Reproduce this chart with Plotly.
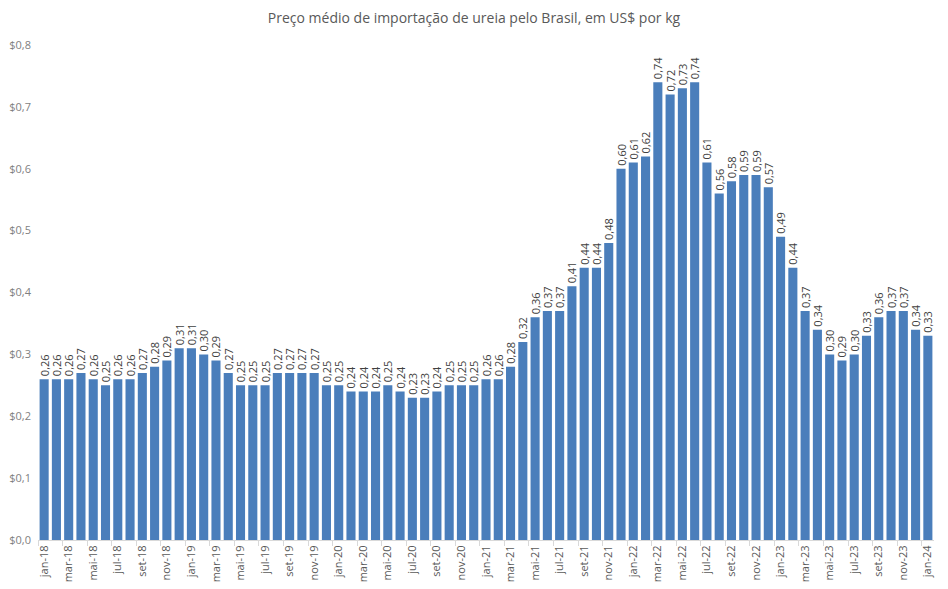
import plotly.graph_objects as go

months = ["jan", "fev", "mar", "abr", "mai", "jun", "jul", "ago", "set", "out", "nov", "dez"]
categories = [f"{m}-{y}" for y in range(18, 24) for m in months] + ["jan-24"]

prices = [
    0.26, 0.26, 0.26, 0.27, 0.26, 0.25, 0.26, 0.26, 0.27, 0.28, 0.29, 0.31,
    0.31, 0.30, 0.29, 0.27, 0.25, 0.25, 0.25, 0.27, 0.27, 0.27, 0.27, 0.25,
    0.25, 0.24, 0.24, 0.24, 0.25, 0.24, 0.23, 0.23, 0.24, 0.25, 0.25, 0.25,
    0.26, 0.26, 0.28, 0.32, 0.36, 0.37, 0.37, 0.41, 0.44, 0.44, 0.48, 0.60,
    0.61, 0.62, 0.74, 0.72, 0.73, 0.74, 0.61, 0.56, 0.58, 0.59, 0.59, 0.57,
    0.49, 0.44, 0.37, 0.34, 0.30, 0.29, 0.30, 0.33, 0.36, 0.37, 0.37, 0.34,
    0.33,
]

title = "Preço médio de importação de ureia pelo Brasil, em US$ por kg"
y_ticks = [0, 0.1, 0.2, 0.3, 0.4, 0.5, 0.6, 0.7, 0.8]
y_tick_labels = ["$0,0", "$0,1", "$0,2", "$0,3", "$0,4", "$0,5", "$0,6", "$0,7", "$0,8"]

xs = list(range(len(categories)))
tick_idx = xs[::2]
tick_labels = [categories[i] for i in tick_idx]
boundaries = [i - 0.5 for i in range(0, len(categories) + 1, 2)]

FONT = "Open Sans"
fig = go.Figure(
    go.Bar(
        x=xs,
        y=prices,
        marker=dict(color="#4A7EBB", line=dict(width=0)),
        texttemplate="%{y:.2f}",
        textposition="outside",
        textangle=-90,
        textfont=dict(family=FONT, size=11, color="#404040"),
        cliponaxis=False,
        constraintext="none",
        hoverinfo="skip",
    )
)

fig.update_layout(
    width=948,
    height=589,
    margin=dict(l=38, r=14, t=45, b=49),
    paper_bgcolor="white",
    plot_bgcolor="white",
    separators=",.",
    bargap=0.26,
    showlegend=False,
    title=dict(
        text=title,
        x=0.5,
        xanchor="center",
        y=1 - 18 / 589,
        yanchor="middle",
        font=dict(family=FONT, size=14, color="#595959"),
    ),
    xaxis=dict(
        range=[-0.5, len(categories) - 0.5],
        tickmode="array",
        tickvals=tick_idx,
        ticktext=tick_labels,
        tickangle=-90,
        ticks="",
        showline=True,
        linecolor="#D9D9D9",
        linewidth=1,
        showgrid=False,
        zeroline=False,
        tickfont=dict(family=FONT, size=11, color="#595959"),
        minor=dict(tickmode="array", tickvals=boundaries, ticks="outside",
                   ticklen=5, tickcolor="#D9D9D9", showgrid=False),
        automargin=False,
    ),
    yaxis=dict(
        range=[0, 0.8],
        tickmode="array",
        tickvals=y_ticks,
        ticktext=y_tick_labels,
        showgrid=False,
        zeroline=False,
        showline=False,
        ticks="",
        ticklabelstandoff=6,
        tickfont=dict(family=FONT, size=11, color="#7F7F7F"),
        automargin=False,
    ),
)

fig.write_html("out.html")
